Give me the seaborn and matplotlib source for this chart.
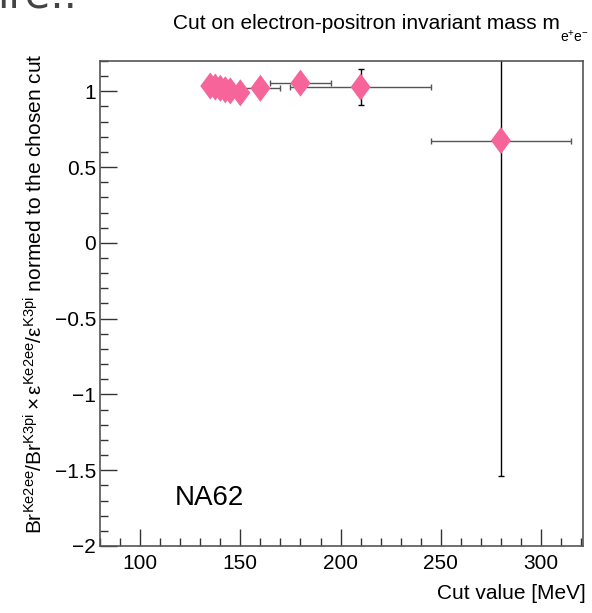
import matplotlib
matplotlib.use("Agg")
import matplotlib.pyplot as plt
import seaborn as sns
import pandas as pd
import numpy as np
from matplotlib.ticker import MultipleLocator

# data
cut_values = [135, 137.5, 140, 142.5, 145, 150, 160, 180, 210, 280]
ratio = [1.035, 1.028, 1.02, 1.01, 1.003, 0.99, 1.02, 1.054, 1.028, 0.675]
x_err = [1, 1, 1, 1, 1, 1, 10, 15, 35, 35]
y_err = [0.01, 0.01, 0.01, 0.01, 0.01, 0.01, 0.03, 0.04, 0.12, 2.21]

df = pd.DataFrame({"cut": cut_values, "ratio": ratio})

sns.set_theme(style="white")
plt.rcParams['font.family'] = ['Liberation Sans', 'DejaVu Sans']
plt.rcParams['mathtext.fontset'] = 'custom'
plt.rcParams['mathtext.rm'] = 'Liberation Sans'
plt.rcParams['mathtext.it'] = 'Liberation Sans'
plt.rcParams['text.color'] = 'black'
plt.rcParams['axes.labelcolor'] = 'black'

fig = plt.figure(figsize=(5.92, 6.13), dpi=100)
ax = fig.add_axes([0.169, 0.1093, 0.816, 0.7912])

# error bars
ax.errorbar(cut_values, ratio, xerr=x_err, fmt='none', ecolor='#555555',
            elinewidth=1.0, capsize=2.5, capthick=1.0, zorder=2)
ax.errorbar(cut_values, ratio, yerr=y_err, fmt='none', ecolor='black',
            elinewidth=1.0, capsize=2.5, capthick=1.0, zorder=2)

diamond = [(-0.74, 0), (0, 1), (0.74, 0), (0, -1), (-0.74, 0)]
sns.scatterplot(data=df, x="cut", y="ratio", marker=diamond, s=380,
                color='#f6649a', edgecolor='none', linewidth=0, ax=ax, zorder=3)

ax.set_xlim(80, 321)
ax.set_ylim(-2, 1.2)
ax.xaxis.set_major_locator(MultipleLocator(50))
ax.xaxis.set_minor_locator(MultipleLocator(10))
ax.yaxis.set_major_locator(MultipleLocator(0.5))
ax.yaxis.set_minor_locator(MultipleLocator(0.1))
ax.tick_params(axis='both', which='major', direction='in', length=12, width=1,
               color='#333333', labelsize=15, labelcolor='black')
ax.tick_params(axis='x', which='major', pad=6)
ax.tick_params(axis='y', which='major', pad=3)
ax.tick_params(axis='both', which='minor', direction='in', length=6, width=1,
               color='#333333')
ax.tick_params(axis='x', which='both', bottom=True, top=False)
ax.tick_params(axis='y', which='both', left=True, right=False)
ax.set_yticks([-2, -1.5, -1, -0.5, 0, 0.5, 1])
ax.set_yticklabels(['\u22122', '\u22121.5', '\u22121', '\u22120.5', '0', '0.5', '1'])
ax.set_xticks([100, 150, 200, 250, 300])
ax.set_xticklabels(['100', '150', '200', '250', '300'])
for sp in ax.spines.values():
    sp.set_color('#555555')
    sp.set_linewidth(1.2)

ax.set_xlabel("Cut value [MeV]", fontsize=15, ha='right', x=1.005, labelpad=8)
ax.set_ylabel(r"$\mathrm{Br^{Ke2ee}/Br^{K3pi}\times\varepsilon^{Ke2ee}/\varepsilon^{K3pi}}$ normed to the chosen cut",
              fontsize=15, ha='right', y=1.015, labelpad=6)

fig.text(0.946, 0.962, "Cut on electron-positron invariant mass m",
         ha='right', va='center', fontsize=15)
fig.text(0.946, 0.940, r"$\mathrm{e^{+}e^{-}}$", ha='left', va='center', fontsize=10)
ax.text(0.226, 0.099, "NA62", transform=ax.transAxes, fontsize=20,
        ha='center', va='center')

# cropped slide fragment at top-left
fig.text(-0.005, 0.988, "ire..", ha='left', va='baseline', fontsize=30,
         color='#444444', family='DejaVu Sans')

fig.savefig("out.png", dpi=100)
